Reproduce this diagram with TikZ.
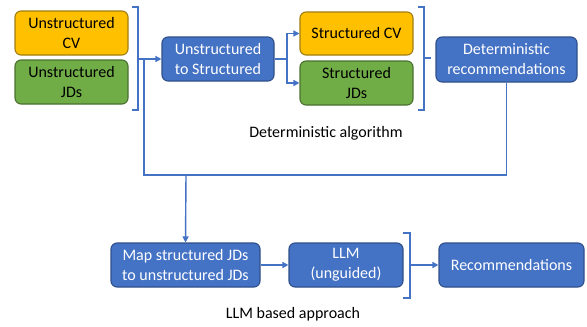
\documentclass[tikz,border=0pt]{standalone}
\usepackage{fontspec}
\setmainfont{Carlito}
\usetikzlibrary{arrows.meta}
\definecolor{orgfill}{HTML}{FFC000}
\definecolor{orgdraw}{HTML}{A07D10}
\definecolor{grnfill}{HTML}{70AD47}
\definecolor{grndraw}{HTML}{4A7030}
\definecolor{blufill}{HTML}{4472C4}
\definecolor{bludraw}{HTML}{2F4F8A}
\definecolor{linec}{HTML}{4472C4}
\tikzset{
  box/.style={rounded corners=6pt, line width=1.1pt, align=center, inner sep=0pt,
    font=\fontsize{16}{20}\selectfont},
  obox/.style={box, fill=orgfill, draw=orgdraw, text=black},
  gbox/.style={box, fill=grnfill, draw=grndraw, text=black},
  bbox/.style={box, fill=blufill, draw=bludraw, text=white},
  conn/.style={draw=linec, line width=1.4pt},
  arr/.style={conn, -{Triangle[length=6pt,width=6pt]}},
  lbl/.style={font=\fontsize{16}{20}\selectfont, text=black}
}
\begin{document}
\begin{tikzpicture}[x=1pt,y=-1pt]
\useasboundingbox (0,0) rectangle (587,327);
% nodes
\node[obox, minimum width=113pt, minimum height=44pt] (ucv) at (71.5,33) {Unstructured\\CV};
\node[gbox, minimum width=113pt, minimum height=44pt] (ujd) at (71.5,82) {Unstructured\\JDs};
\node[bbox, minimum width=112pt, minimum height=44pt] (u2s) at (218,59) {Unstructured\\to Structured};
\node[obox, minimum width=113pt, minimum height=43pt] (scv) at (356.5,33.5) {Structured CV};
\node[gbox, minimum width=113pt, minimum height=44pt] (sjd) at (356.5,83) {Structured\\JDs};
\node[bbox, minimum width=141pt, minimum height=45pt] (det) at (506.5,59.5) {Deterministic\\recommendations};
\node[bbox, minimum width=149pt, minimum height=44pt] (map) at (185.5,265) {Map structured JDs\\to unstructured JDs};
\node[bbox, minimum width=114pt, minimum height=44pt] (llm) at (346,265) {LLM\\(unguided)};
\node[bbox, minimum width=145pt, minimum height=44pt] (rec) at (511.5,265) {Recommendations};
\node[lbl] (dalg) at (326,133) {Deterministic algorithm};
\node[lbl] (llma) at (293,314) {LLM based approach};
% brackets
\draw[conn] (132,7) -- (138,7) -- (138,110) -- (132,110);
\coordinate (b1m) at (138,59);
\draw[conn] (418,7) -- (424,7) -- (424,110) -- (418,110);
\coordinate (b2m) at (424,58);
\coordinate (b2t) at (431,58);
\draw[conn] (b2m) -- (b2t);
\draw[conn] (403,233) -- (410,233) -- (410,298) -- (403,298);
\coordinate (b3m) at (410,265);
% connectors
\coordinate (j1) at (144,175);
\coordinate (j2) at (186,175);
\coordinate (fork) at (287,59);
\draw[arr] (b1m) -- (u2s.west);
\draw[conn] (det.south) |- (j1) |- (b1m);
\draw[arr] (j2) -- (map.north);
\draw[conn] (u2s.east) -- (fork);
\draw[arr] (fork) |- (scv.west);
\draw[arr] (fork) |- (sjd.west);
\draw[arr] (map.east) -- (llm.west);
\draw[arr] (b3m) -- (rec.west);
\end{tikzpicture}
\end{document}
